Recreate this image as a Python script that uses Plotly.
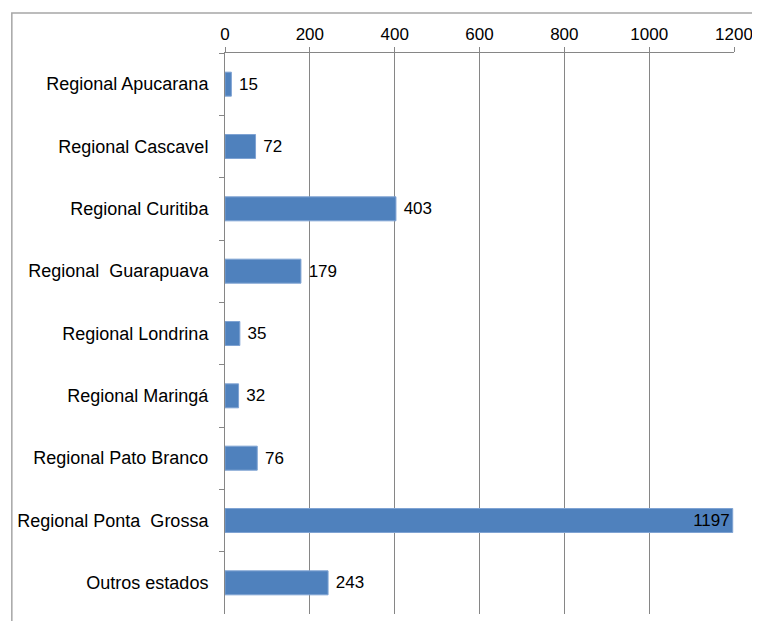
import plotly.graph_objects as go

categories = [
    "Regional Apucarana",
    "Regional Cascavel",
    "Regional Curitiba",
    "Regional\u00a0\u00a0Guarapuava",
    "Regional Londrina",
    "Regional Maringá",
    "Regional Pato Branco",
    "Regional Ponta\u00a0\u00a0Grossa",
    "Outros estados",
]
values = [15, 72, 403, 179, 35, 32, 76, 1197, 243]
x_ticks = [0, 200, 400, 600, 800, 1000, 1200]

FONT = "Liberation Sans, Arial, sans-serif"

# the bar that reaches the axis end gets its label at the bar's tip
big = [v >= 1100 for v in values]
labels = [str(v) if b else ("\u00a0" + str(v)) for v, b in zip(values, big)]
positions = ["inside" if b else "outside" for b in big]

fig = go.Figure(
    go.Bar(
        x=values,
        y=categories,
        orientation="h",
        marker=dict(color="#4F81BD", line=dict(color="#7FA3D3", width=1)),
        text=labels,
        textposition=positions,
        insidetextanchor="end",
        textfont=dict(family=FONT, size=17, color="#000000"),
        insidetextfont=dict(family=FONT, size=17, color="#000000"),
        outsidetextfont=dict(family=FONT, size=17, color="#000000"),
        cliponaxis=False,
        constraintext="none",
        width=0.385,
    )
)

# page body has an 8px margin, so the figure is sized/offset to compensate
fig.update_layout(
    width=752,
    height=613,
    margin=dict(l=217, r=24, t=45, b=7),
    paper_bgcolor="white",
    plot_bgcolor="white",
    font=dict(family=FONT, size=17, color="#000000"),
    showlegend=False,
    xaxis=dict(
        side="top",
        range=[0, 1200],
        tickvals=x_ticks,
        ticktext=[str(t) for t in x_ticks],
        showgrid=True,
        gridcolor="#868686",
        gridwidth=1,
        showline=True,
        linecolor="#868686",
        linewidth=1,
        ticks="outside",
        ticklen=5,
        tickcolor="#868686",
        tickfont=dict(family=FONT, size=17, color="#000000"),
        zeroline=False,
        fixedrange=True,
    ),
    yaxis=dict(
        autorange="reversed",
        showgrid=False,
        showline=True,
        linecolor="#868686",
        linewidth=1,
        ticks="outside",
        ticklen=5,
        tickcolor="#868686",
        tickson="boundaries",
        ticklabelstandoff=12,
        tickfont=dict(family=FONT, size=18, color="#000000"),
        zeroline=False,
        fixedrange=True,
    ),
    shapes=[
        dict(
            type="rect",
            xref="paper",
            yref="paper",
            x0=-0.4188,
            x1=1.2,
            y0=-0.2,
            y1=1.0713,
            line=dict(color="#A6A6A6", width=1.5),
            fillcolor="rgba(0,0,0,0)",
            layer="below",
        )
    ],
)

fig.write_html("out.html")
